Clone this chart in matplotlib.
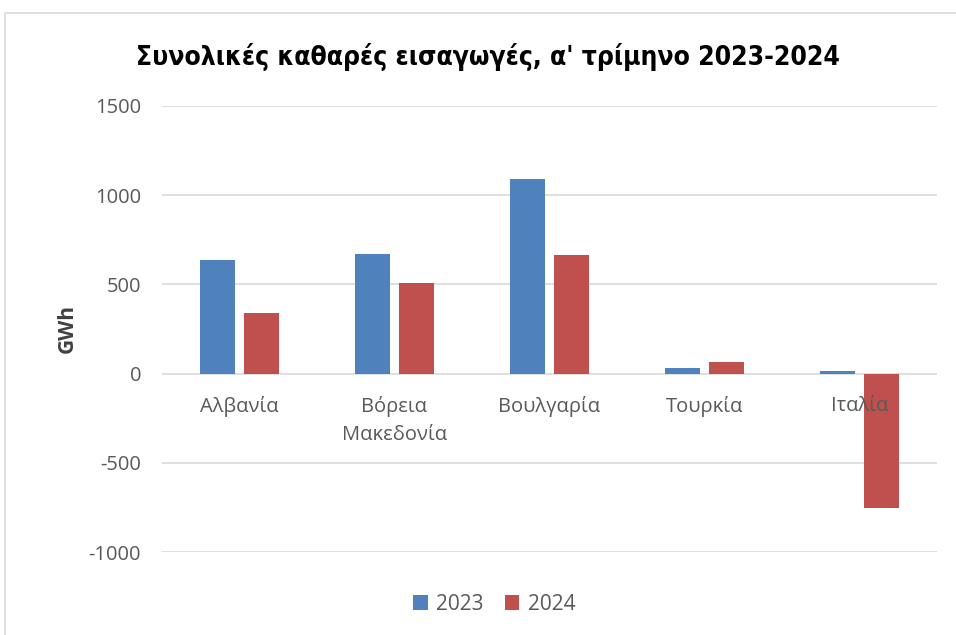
import numpy as np
import matplotlib.pyplot as plt
from matplotlib.patches import Rectangle

countries = ['Αλβανία', 'Βόρεια\nΜακεδονία', 'Βουλγαρία', 'Τουρκία', 'Ιταλία']
y2023 = [638, 672, 1090, 32, 15]
y2024 = [338, 510, 667, 66, -756]
yticks = [-1000, -500, 0, 500, 1000, 1500]

plt.rcParams['font.family'] = ['Open Sans', 'DejaVu Sans']

fig = plt.figure(figsize=(9.56, 6.35), dpi=100)
ax = fig.add_axes([0.1695, 0.1307, 0.8105, 0.7024])

x = np.arange(len(countries))
w = 0.226
off = 0.142
ax.bar(x - off, y2023, w, color='#4F81BD', label='2023', zorder=2)
ax.bar(x + off, y2024, w, color='#C0504D', label='2024', zorder=2)

ax.set_xlim(-0.5, len(countries) - 0.5)
ax.set_ylim(-1000, 1500)
ax.set_yticks(yticks)
ax.set_yticklabels([str(v) for v in yticks], fontsize=14.5, color='#595959')
ax.tick_params(axis='y', length=0, pad=15)
ax.set_xticks([])
ax.grid(axis='y', color='#d9d9d9', linewidth=1.2, zorder=0)
for s in ax.spines.values():
    s.set_visible(False)

# category labels sit just under the zero line
for i, c in enumerate(countries):
    ax.annotate(c, (i, 0), xytext=(0, -16), textcoords='offset points',
                ha='center', va='top', fontsize=14.5, color='#595959',
                linespacing=1.55, zorder=5)

ax.set_ylabel('GWh', fontsize=15, fontweight='bold', color='#404040', labelpad=8)

fig.text(0.51, 0.91, "Συνολικές καθαρές εισαγωγές, α' τρίμηνο 2023-2024",
         ha='center', va='center', fontsize=19, fontweight='bold',
         fontstretch='condensed', family=['DejaVu Sans'])

fig.legend(loc='center', bbox_to_anchor=(0.517, 0.048), ncol=2, frameon=False,
           fontsize=15, handlelength=0.7, handleheight=0.7, handletextpad=0.4,
           columnspacing=1.0, labelcolor='#595959')

fig.patches.append(Rectangle((5 / 956, -0.01), 1.0, 1 - 13 / 635 + 0.01,
                             transform=fig.transFigure, fill=False,
                             edgecolor='#d9d9d9', linewidth=1.2))

fig.savefig('out.png', dpi=100)
